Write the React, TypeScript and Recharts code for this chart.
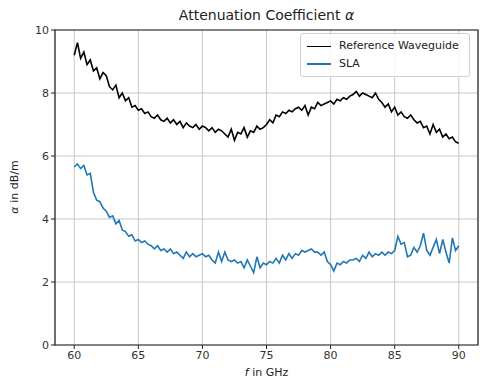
import { LineChart, Line, XAxis, YAxis, CartesianGrid, ReferenceArea } from 'recharts'

// frequency grid in GHz, 0.25 GHz steps from 60 to 90
const freq = Array.from({ length: 121 }, (_, i) => 60 + i * 0.25)

const refWaveguide = [
  9.2, 9.6, 9.1, 9.3, 8.9, 9.05, 8.7, 8.8, 8.45, 8.65, 8.55, 8.2, 8.1, 8.25, 7.85, 8.0,
  7.75, 7.85, 7.55, 7.6, 7.45, 7.5, 7.35, 7.4, 7.25, 7.2, 7.3, 7.15, 7.1, 7.2, 7.05, 7.15,
  7.0, 7.1, 6.9, 7.05, 6.95, 6.9, 7.0, 6.85, 6.95, 6.9, 6.8, 6.9, 6.75, 6.85, 6.8, 6.7,
  6.6, 6.85, 6.5, 6.75, 6.7, 6.9, 6.6, 6.8, 6.75, 6.95, 6.85, 6.9, 7.0, 7.15, 7.05, 7.3,
  7.25, 7.4, 7.35, 7.45, 7.4, 7.5, 7.55, 7.45, 7.6, 7.3, 7.55, 7.5, 7.7, 7.6, 7.65, 7.7,
  7.75, 7.65, 7.8, 7.75, 7.85, 7.8, 7.9, 7.95, 8.05, 7.9, 8.0, 7.95, 7.9, 7.85, 8.0, 7.8,
  7.7, 7.55, 7.65, 7.4, 7.55, 7.3, 7.4, 7.25, 7.2, 7.3, 7.15, 7.05, 7.1, 6.9, 6.95, 6.7,
  7.0, 6.75, 6.85, 6.6, 6.7, 6.55, 6.6, 6.45, 6.4,
]

const sla = [
  5.65, 5.75, 5.6, 5.7, 5.4, 5.45, 4.85, 4.6, 4.55, 4.35, 4.25, 4.05, 4.1, 3.85, 3.95, 3.65,
  3.6, 3.45, 3.5, 3.3, 3.35, 3.25, 3.3, 3.2, 3.15, 3.05, 3.15, 3.0, 3.05, 2.95, 3.05, 2.9,
  2.95, 2.85, 2.75, 2.95, 2.8, 2.9, 2.8, 2.85, 2.9, 2.8, 2.85, 2.7, 2.6, 2.95, 2.65, 2.95,
  2.7, 2.65, 2.7, 2.6, 2.65, 2.45, 2.7, 2.5, 2.3, 2.8, 2.45, 2.6, 2.55, 2.65, 2.6, 2.75,
  2.6, 2.85, 2.7, 2.9, 2.75, 2.9, 2.85, 3.0, 2.95, 3.0, 3.05, 2.95, 2.95, 2.85, 2.95, 2.65,
  2.55, 2.35, 2.6, 2.55, 2.65, 2.6, 2.7, 2.7, 2.75, 2.65, 2.85, 2.75, 2.95, 2.8, 2.9, 2.85,
  2.95, 2.85, 2.95, 2.9, 3.0, 3.45, 3.2, 3.25, 2.8, 2.85, 3.1, 2.95, 3.15, 3.55, 3.0, 2.85,
  3.1, 3.35, 2.9, 3.35, 2.95, 2.6, 3.4, 3.0, 3.15,
]

const xTicks = [60, 65, 70, 75, 80, 85, 90]
const yTicks = [0, 2, 4, 6, 8, 10]

const data = freq.map((f, i) => ({ f, ref: refWaveguide[i], sla: sla[i] }))

const FONT = '"DejaVu Sans", sans-serif'
const tick = { fontSize: 11, fill: '#333', fontFamily: FONT }

function LegendBox() {
  return (
    <div style={{ position: 'absolute', left: 300, top: 33, width: 170, boxSizing: 'border-box', border: '1px solid #d0d0d0', borderRadius: 3, background: 'rgba(255,255,255,0.85)', padding: '3px 6px', fontFamily: FONT, fontSize: 11, color: '#222', lineHeight: '18px' }}>
      <div style={{ display: 'flex', alignItems: 'center' }}>
        <span style={{ display: 'inline-block', width: 24, borderTop: '1.2px solid #000', marginRight: 8 }} />
        Reference Waveguide
      </div>
      <div style={{ display: 'flex', alignItems: 'center' }}>
        <span style={{ display: 'inline-block', width: 24, borderTop: '2.5px solid #1f77b4', marginRight: 8 }} />
        SLA
      </div>
    </div>
  )
}

export default function App() {
  return (
    <div style={{ position: 'absolute', left: 0, top: 0, width: 500, height: 386, background: '#fff' }}>
      <div style={{ position: 'absolute', left: 55, width: 423, top: 7, textAlign: 'center', fontFamily: FONT, fontSize: 14, color: '#222' }}>
        Attenuation Coefficient <i>α</i>
      </div>
      <LineChart width={500} height={386} data={data} margin={{ top: 30, right: 22, bottom: 0, left: 0 }}>
        <CartesianGrid stroke="#c8c8c8" strokeWidth={1} />
        <XAxis
          dataKey="f"
          type="number"
          domain={[58.5, 91.5]}
          ticks={xTicks}
          height={41}
          tick={tick}
          tickSize={4}
          stroke="#222"
          axisLine={false}
          interval={0}
        />
        <YAxis
          type="number"
          domain={[0, 10]}
          ticks={yTicks}
          width={55}
          tick={tick}
          tickSize={4}
          stroke="#222"
          axisLine={false}
          interval={0}
        />
        <ReferenceArea x1={58.5} x2={91.5} y1={0} y2={10} fill="none" stroke="#222" strokeWidth={1.2} ifOverflow="visible" />
        <Line dataKey="ref" stroke="#000" strokeWidth={1.6} dot={false} isAnimationActive={false} />
        <Line dataKey="sla" stroke="#1f77b4" strokeWidth={1.6} dot={false} isAnimationActive={false} />
      </LineChart>
      <LegendBox />
      <div style={{ position: 'absolute', left: 55, width: 423, top: 366, textAlign: 'center', fontFamily: FONT, fontSize: 11, color: '#222' }}>
        <i>f</i> in GHz
      </div>
      <div style={{ position: 'absolute', left: 14, top: 187, transform: 'translate(-50%, -50%) rotate(-90deg)', whiteSpace: 'nowrap', fontFamily: FONT, fontSize: 11, color: '#222' }}>
        <i>α</i> in dB/m
      </div>
    </div>
  )
}
